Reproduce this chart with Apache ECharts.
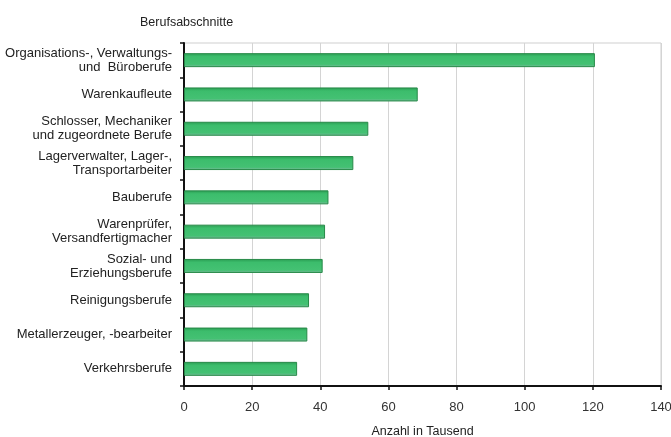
<!DOCTYPE html>
<html>
<head>
<meta charset="utf-8">
<script src="https://cdn.jsdelivr.net/npm/echarts@6/dist/echarts.min.js"></script>
<style>
  html, body { margin: 0; padding: 0; background: #ffffff; }
  #chart { width: 671px; height: 437px; }
</style>
</head>
<body>
<div id="chart"></div>
<script>
// Occupational groups, listed bottom to top as the category axis draws them
const categories = [
  'Verkehrsberufe',
  'Metallerzeuger, -bearbeiter',
  'Reinigungsberufe',
  'Sozial- und\nErziehungsberufe',
  'Warenprüfer,\nVersandfertigmacher',
  'Bauberufe',
  'Lagerverwalter, Lager-,\nTransportarbeiter',
  'Schlosser, Mechaniker\nund zugeordnete Berufe',
  'Warenkaufleute',
  'Organisations-, Verwaltungs-\nund  Büroberufe'
];
// Number of people, in thousands
const values = [33.2, 36.2, 36.7, 40.7, 41.4, 42.4, 49.7, 54.1, 68.6, 120.6];
// Value axis ticks
const xTicks = [0, 20, 40, 60, 80, 100, 120, 140];

const font = 'Liberation Sans, Arial, sans-serif';
const chart = echarts.init(document.getElementById('chart'), null, { renderer: 'canvas' });

chart.setOption({
  animation: false,
  backgroundColor: '#ffffff',
  grid: {
    left: 184, right: 10, top: 43, bottom: 51,
    containLabel: false,
    outerBoundsMode: 'none',
    show: true, borderColor: '#cfcfcf', borderWidth: 1
  },
  title: {
    text: 'Berufsabschnitte',
    left: 135, top: 11,
    textStyle: { fontFamily: font, fontSize: 12.5, fontWeight: 'normal', color: '#222' }
  },
  xAxis: {
    type: 'value',
    min: xTicks[0], max: xTicks[xTicks.length - 1], interval: 20,
    name: 'Anzahl in Tausend',
    nameLocation: 'middle', nameGap: 39,
    nameTextStyle: { fontFamily: font, fontSize: 12.5, color: '#222' },
    axisLine: { show: true, lineStyle: { color: '#111', width: 2 } },
    axisTick: { show: true, length: 4, lineStyle: { color: '#111', width: 1.5 } },
    axisLabel: { fontFamily: font, fontSize: 13, color: '#333', margin: 15 },
    splitLine: { show: true, lineStyle: { color: '#d4d4d4', width: 1 } }
  },
  yAxis: {
    type: 'category',
    data: categories,
    axisLine: { show: true, lineStyle: { color: '#111', width: 2 } },
    axisTick: { show: true, length: 4, lineStyle: { color: '#111', width: 1.5 } },
    axisLabel: {
      fontFamily: font, fontSize: 13, color: '#222', margin: 12,
      lineHeight: 14, align: 'right'
    },
    splitLine: { show: false }
  },
  series: [{
    type: 'bar',
    data: values,
    barWidth: 14,
    itemStyle: {
      color: new echarts.graphic.LinearGradient(0, 0, 0, 1, [
        { offset: 0, color: '#2a9c52' },
        { offset: 0.25, color: '#3cbd6c' },
        { offset: 0.8, color: '#44c173' },
        { offset: 1, color: '#7fb7a0' }
      ]),
      borderColor: '#278a48',
      borderWidth: 1
    }
  }]
});
</script>
</body>
</html>
